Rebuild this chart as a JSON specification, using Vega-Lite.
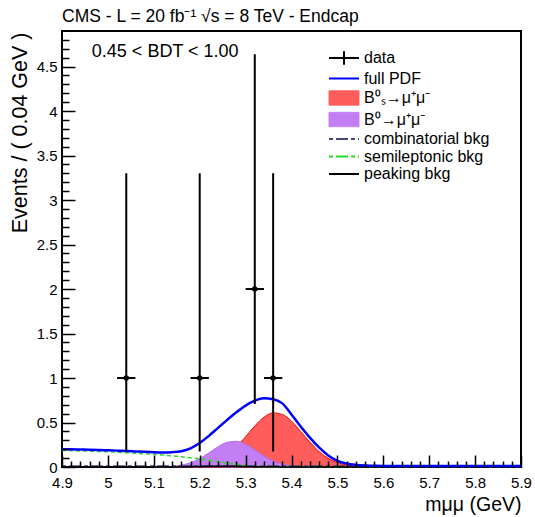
{
  "$schema": "https://vega.github.io/schema/vega-lite/v6.json",
  "width": 459,
  "height": 436,
  "autosize": {"type": "none"},
  "padding": {"left": 62, "top": 31, "right": 14, "bottom": 50},
  "background": "white",
  "title": {"text": "CMS - L = 20 fb⁻¹ √s = 8 TeV - Endcap", "anchor": "start", "frame": "group", "offset": 6, "fontSize": 17.5, "fontWeight": "normal", "font": "Liberation Sans", "color": "#000"},
  "datasets": {
    "curves": [
      {"x": 4.90, "full": 0.200, "bs": 0, "b0": 0, "semi": 0.186, "comb": 0.012, "peak": 0},
      {"x": 4.92, "full": 0.199, "bs": 0, "b0": 0, "semi": 0.184, "comb": 0.012, "peak": 0},
      {"x": 4.94, "full": 0.197, "bs": 0, "b0": 0, "semi": 0.181, "comb": 0.012, "peak": 0},
      {"x": 4.96, "full": 0.195, "bs": 0, "b0": 0, "semi": 0.178, "comb": 0.012, "peak": 0},
      {"x": 4.98, "full": 0.192, "bs": 0, "b0": 0, "semi": 0.175, "comb": 0.012, "peak": 0},
      {"x": 5.00, "full": 0.188, "bs": 0, "b0": 0, "semi": 0.171, "comb": 0.012, "peak": 0},
      {"x": 5.02, "full": 0.184, "bs": 0, "b0": 0, "semi": 0.166, "comb": 0.012, "peak": 0},
      {"x": 5.04, "full": 0.180, "bs": 0, "b0": 0, "semi": 0.161, "comb": 0.012, "peak": 0},
      {"x": 5.06, "full": 0.175, "bs": 0, "b0": 0, "semi": 0.155, "comb": 0.012, "peak": 0},
      {"x": 5.08, "full": 0.170, "bs": 0, "b0": 0, "semi": 0.149, "comb": 0.012, "peak": 0},
      {"x": 5.10, "full": 0.166, "bs": 0, "b0": 0.001, "semi": 0.142, "comb": 0.012, "peak": 0},
      {"x": 5.12, "full": 0.164, "bs": 0, "b0": 0.002, "semi": 0.134, "comb": 0.012, "peak": 0.001},
      {"x": 5.14, "full": 0.167, "bs": 0.001, "b0": 0.008, "semi": 0.125, "comb": 0.012, "peak": 0.001},
      {"x": 5.16, "full": 0.178, "bs": 0.002, "b0": 0.021, "semi": 0.115, "comb": 0.012, "peak": 0.002},
      {"x": 5.18, "full": 0.210, "bs": 0.005, "b0": 0.048, "semi": 0.103, "comb": 0.012, "peak": 0.004},
      {"x": 5.20, "full": 0.270, "bs": 0.014, "b0": 0.094, "semi": 0.090, "comb": 0.012, "peak": 0.006},
      {"x": 5.22, "full": 0.350, "bs": 0.033, "b0": 0.158, "semi": 0.075, "comb": 0.012, "peak": 0.008},
      {"x": 5.24, "full": 0.440, "bs": 0.070, "b0": 0.227, "semi": 0.060, "comb": 0.012, "peak": 0.009},
      {"x": 5.26, "full": 0.530, "bs": 0.132, "b0": 0.277, "semi": 0.045, "comb": 0.012, "peak": 0.009},
      {"x": 5.28, "full": 0.615, "bs": 0.224, "b0": 0.289, "semi": 0.031, "comb": 0.012, "peak": 0.008},
      {"x": 5.30, "full": 0.690, "bs": 0.339, "b0": 0.256, "semi": 0.020, "comb": 0.012, "peak": 0.006},
      {"x": 5.32, "full": 0.745, "bs": 0.460, "b0": 0.193, "semi": 0.011, "comb": 0.012, "peak": 0.004},
      {"x": 5.34, "full": 0.772, "bs": 0.559, "b0": 0.125, "semi": 0.005, "comb": 0.012, "peak": 0.003},
      {"x": 5.36, "full": 0.762, "bs": 0.608, "b0": 0.068, "semi": 0.002, "comb": 0.012, "peak": 0.002},
      {"x": 5.38, "full": 0.715, "bs": 0.591, "b0": 0.032, "semi": 0.001, "comb": 0.012, "peak": 0.001},
      {"x": 5.40, "full": 0.590, "bs": 0.515, "b0": 0.013, "semi": 0, "comb": 0.012, "peak": 0},
      {"x": 5.42, "full": 0.455, "bs": 0.400, "b0": 0.004, "semi": 0, "comb": 0.012, "peak": 0},
      {"x": 5.44, "full": 0.330, "bs": 0.280, "b0": 0.001, "semi": 0, "comb": 0.012, "peak": 0},
      {"x": 5.46, "full": 0.220, "bs": 0.174, "b0": 0, "semi": 0, "comb": 0.012, "peak": 0},
      {"x": 5.48, "full": 0.130, "bs": 0.097, "b0": 0, "semi": 0, "comb": 0.012, "peak": 0},
      {"x": 5.50, "full": 0.070, "bs": 0.049, "b0": 0, "semi": 0, "comb": 0.012, "peak": 0},
      {"x": 5.52, "full": 0.040, "bs": 0.022, "b0": 0, "semi": 0, "comb": 0.012, "peak": 0},
      {"x": 5.54, "full": 0.025, "bs": 0.009, "b0": 0, "semi": 0, "comb": 0.012, "peak": 0},
      {"x": 5.56, "full": 0.017, "bs": 0.003, "b0": 0, "semi": 0, "comb": 0.012, "peak": 0},
      {"x": 5.58, "full": 0.014, "bs": 0.001, "b0": 0, "semi": 0, "comb": 0.012, "peak": 0},
      {"x": 5.60, "full": 0.012, "bs": 0, "b0": 0, "semi": 0, "comb": 0.012, "peak": 0},
      {"x": 5.65, "full": 0.012, "bs": 0, "b0": 0, "semi": 0, "comb": 0.012, "peak": 0},
      {"x": 5.70, "full": 0.012, "bs": 0, "b0": 0, "semi": 0, "comb": 0.012, "peak": 0},
      {"x": 5.75, "full": 0.012, "bs": 0, "b0": 0, "semi": 0, "comb": 0.012, "peak": 0},
      {"x": 5.80, "full": 0.012, "bs": 0, "b0": 0, "semi": 0, "comb": 0.012, "peak": 0},
      {"x": 5.85, "full": 0.012, "bs": 0, "b0": 0, "semi": 0, "comb": 0.012, "peak": 0},
      {"x": 5.90, "full": 0.012, "bs": 0, "b0": 0, "semi": 0, "comb": 0.012, "peak": 0}
    ],
    "points": [
      {"x": 5.04, "y": 1, "lo": 0.173, "hi": 3.30, "xlo": 5.02, "xhi": 5.06},
      {"x": 5.20, "y": 1, "lo": 0.173, "hi": 3.30, "xlo": 5.18, "xhi": 5.22},
      {"x": 5.32, "y": 2, "lo": 0.708, "hi": 4.64, "xlo": 5.30, "xhi": 5.34},
      {"x": 5.36, "y": 1, "lo": 0.173, "hi": 3.30, "xlo": 5.34, "xhi": 5.38}
    ]
  },
  "resolve": {"axis": {"x": "independent", "y": "independent"}},
  "layer": [
    {
      "data": {"name": "curves"},
      "transform": [{"filter": "datum.bs > 0"}],
      "mark": {"type": "area", "interpolate": "monotone", "fill": "#ff5c5c", "stroke": "#ff0000", "strokeWidth": 1},
      "encoding": {
        "x": {"field": "x", "type": "quantitative", "scale": {"domain": [4.9, 5.9], "nice": false, "zero": false},
          "axis": {"orient": "bottom", "values": [4.9, 5.0, 5.1, 5.2, 5.3, 5.4, 5.5, 5.6, 5.7, 5.8, 5.9], "ticks": false, "domain": false, "grid": false, "format": "~g", "labelFlush": false, "labelOverlap": false, "labelPadding": 8, "labelFontSize": 15, "labelFont": "Liberation Sans", "labelColor": "#000",
            "title": "mμμ (GeV)", "titleFontSize": 19.5, "titleFont": "Liberation Sans", "titleFontWeight": "normal", "titleColor": "#000", "titleX": 459, "titleY": 37, "titleAlign": "right", "titleBaseline": "middle", "titleAnchor": null}},
        "y": {"field": "bs", "type": "quantitative", "scale": {"domain": [0, 4.9], "nice": false},
          "axis": {"orient": "left", "values": [0, 0.5, 1, 1.5, 2, 2.5, 3, 3.5, 4, 4.5], "ticks": false, "domain": false, "grid": false, "format": "~g", "labelOverlap": false, "labelFlush": false, "labelPadding": 5, "labelFontSize": 15, "labelFont": "Liberation Sans", "labelColor": "#000",
            "title": "Events / ( 0.04 GeV )", "titleFontSize": 21.5, "titleFont": "Liberation Sans", "titleFontWeight": "normal", "titleColor": "#000", "titleX": -42, "titleY": 1, "titleAngle": -90, "titleAlign": "right", "titleBaseline": "middle", "titleAnchor": null}}
      }
    },
    {
      "data": {"name": "curves"},
      "transform": [{"filter": "datum.b0 > 0"}],
      "mark": {"type": "area", "interpolate": "monotone", "fill": "#c27ef2", "stroke": "#b36ae8", "strokeWidth": 1},
      "encoding": {
        "x": {"field": "x", "type": "quantitative",
          "axis": {"orient": "bottom", "values": [4.9, 5.0, 5.1, 5.2, 5.3, 5.4, 5.5, 5.6, 5.7, 5.8, 5.9], "labels": false, "ticks": true, "tickSize": -12, "tickWidth": 1.5, "tickColor": "#000", "domain": false, "grid": false, "title": null, "zindex": 2}},
        "y": {"field": "b0", "type": "quantitative",
          "axis": {"orient": "left", "values": [0, 0.5, 1, 1.5, 2, 2.5, 3, 3.5, 4, 4.5], "labels": false, "ticks": true, "tickSize": -13, "tickWidth": 1.5, "tickColor": "#000", "domain": false, "grid": false, "title": null, "zindex": 2}}
      }
    },
    {
      "data": {"name": "curves"},
      "mark": {"type": "line", "interpolate": "monotone", "strokeWidth": 1.5, "strokeDash": [4, 3]},
      "encoding": {
        "x": {"field": "x", "type": "quantitative",
          "axis": {"orient": "bottom", "values": [4.92, 4.94, 4.96, 4.98, 5.02, 5.04, 5.06, 5.08, 5.12, 5.14, 5.16, 5.18, 5.22, 5.24, 5.26, 5.28, 5.32, 5.34, 5.36, 5.38, 5.42, 5.44, 5.46, 5.48, 5.52, 5.54, 5.56, 5.58, 5.62, 5.64, 5.66, 5.68, 5.72, 5.74, 5.76, 5.78, 5.82, 5.84, 5.86, 5.88], "labels": false, "ticks": true, "tickSize": -6, "tickWidth": 1.5, "tickColor": "#000", "domain": false, "grid": false, "title": null, "zindex": 2}},
        "y": {"field": "semi", "type": "quantitative",
          "axis": {"orient": "left", "values": [0.1, 0.2, 0.3, 0.4, 0.6, 0.7, 0.8, 0.9, 1.1, 1.2, 1.3, 1.4, 1.6, 1.7, 1.8, 1.9, 2.1, 2.2, 2.3, 2.4, 2.6, 2.7, 2.8, 2.9, 3.1, 3.2, 3.3, 3.4, 3.6, 3.7, 3.8, 3.9, 4.1, 4.2, 4.3, 4.4, 4.6, 4.7, 4.8], "labels": false, "ticks": true, "tickSize": -7, "tickWidth": 1.5, "tickColor": "#000", "domain": false, "grid": false, "title": null, "zindex": 2}},
        "color": {"datum": "semi", "type": "nominal",
          "scale": {"domain": ["data", "full", "bs", "b0", "comb", "semi", "peak"], "range": ["#000000", "#0000ff", "#ff5c5c", "#c27ef2", "#454580", "#22dd22", "#000000"]},
          "legend": {
            "orient": "none", "legendX": 274, "legendY": 19, "title": null,
            "symbolSize": 900, "symbolStrokeWidth": 2,
            "labelFontSize": 16, "labelFont": "Liberation Sans", "labelColor": "#000", "labelOffset": 12, "rowPadding": 1.5,
            "labelExpr": "datum.value == 'data' ? 'data' : datum.value == 'full' ? 'full PDF' : datum.value == 'bs' ? 'B⁰ₛ→μ⁺μ⁻' : datum.value == 'b0' ? 'B⁰→μ⁺μ⁻' : datum.value == 'comb' ? 'combinatorial bkg' : datum.value == 'semi' ? 'semileptonic bkg' : 'peaking bkg'",
            "encode": {
              "symbols": {
                "update": {
                  "shape": {"signal": "datum.value == 'data' ? 'M-1,0H1M0,-0.45V0.45' : (datum.value == 'bs' || datum.value == 'b0') ? 'M-1,-0.48H1V0.48H-1Z' : 'stroke'"},
                  "fill": {"signal": "datum.value == 'bs' ? '#ff5c5c' : datum.value == 'b0' ? '#c27ef2' : 'transparent'"},
                  "stroke": {"signal": "datum.value == 'data' ? '#000' : datum.value == 'full' ? '#0000ff' : datum.value == 'bs' ? '#ff0000' : datum.value == 'b0' ? '#b36ae8' : datum.value == 'comb' ? '#454580' : datum.value == 'semi' ? '#22dd22' : '#000'"},
                  "strokeDash": {"signal": "(datum.value == 'comb' || datum.value == 'semi') ? [4, 3, 12, 3] : [1, 0]"},
                  "strokeWidth": {"signal": "(datum.value == 'bs' || datum.value == 'b0') ? 1 : 2"},
                  "size": {"value": 900},
                  "opacity": {"value": 1}
                }
              }
            }
          }
        }
      }
    },
    {
      "data": {"name": "curves"},
      "mark": {"type": "line", "interpolate": "monotone", "strokeWidth": 1.5, "strokeDash": [4, 3, 12, 3]},
      "encoding": {
        "x": {"field": "x", "type": "quantitative", "axis": null},
        "y": {"field": "comb", "type": "quantitative", "axis": null},
        "color": {"datum": "comb", "type": "nominal"}
      }
    },
    {
      "data": {"name": "curves"},
      "mark": {"type": "line", "interpolate": "monotone", "strokeWidth": 1.5},
      "encoding": {
        "x": {"field": "x", "type": "quantitative", "axis": null},
        "y": {"field": "peak", "type": "quantitative", "axis": null},
        "color": {"datum": "peak", "type": "nominal"}
      }
    },
    {
      "data": {"name": "curves"},
      "mark": {"type": "line", "interpolate": "monotone", "strokeWidth": 2.5},
      "encoding": {
        "x": {"field": "x", "type": "quantitative", "axis": null},
        "y": {"field": "full", "type": "quantitative", "axis": null},
        "color": {"datum": "full", "type": "nominal"}
      }
    },
    {
      "data": {"name": "points"},
      "mark": {"type": "rule", "strokeWidth": 2},
      "encoding": {
        "x": {"field": "x", "type": "quantitative", "axis": null},
        "y": {"field": "lo", "type": "quantitative", "axis": null},
        "y2": {"field": "hi"},
        "color": {"datum": "data", "type": "nominal"}
      }
    },
    {
      "data": {"name": "points"},
      "mark": {"type": "rule", "strokeWidth": 2},
      "encoding": {
        "x": {"field": "xlo", "type": "quantitative", "axis": null},
        "x2": {"field": "xhi"},
        "y": {"field": "y", "type": "quantitative", "axis": null},
        "color": {"datum": "data", "type": "nominal"}
      }
    },
    {
      "data": {"name": "points"},
      "mark": {"type": "point", "shape": "circle", "filled": true, "size": 30, "opacity": 1},
      "encoding": {
        "x": {"field": "x", "type": "quantitative", "axis": null},
        "y": {"field": "y", "type": "quantitative", "axis": null},
        "color": {"datum": "data", "type": "nominal"}
      }
    },
    {
      "data": {"values": [{}]},
      "mark": {"type": "text", "align": "left", "baseline": "middle", "fontSize": 18, "font": "Liberation Sans", "color": "#000"},
      "encoding": {
        "x": {"datum": 4.965, "type": "quantitative", "axis": null},
        "y": {"datum": 4.66, "type": "quantitative", "axis": null},
        "text": {"value": "0.45 < BDT < 1.00"}
      }
    }
  ],
  "config": {
    "view": {"stroke": "#000", "strokeWidth": 2},
    "axis": {"grid": false, "domain": false}
  }
}
